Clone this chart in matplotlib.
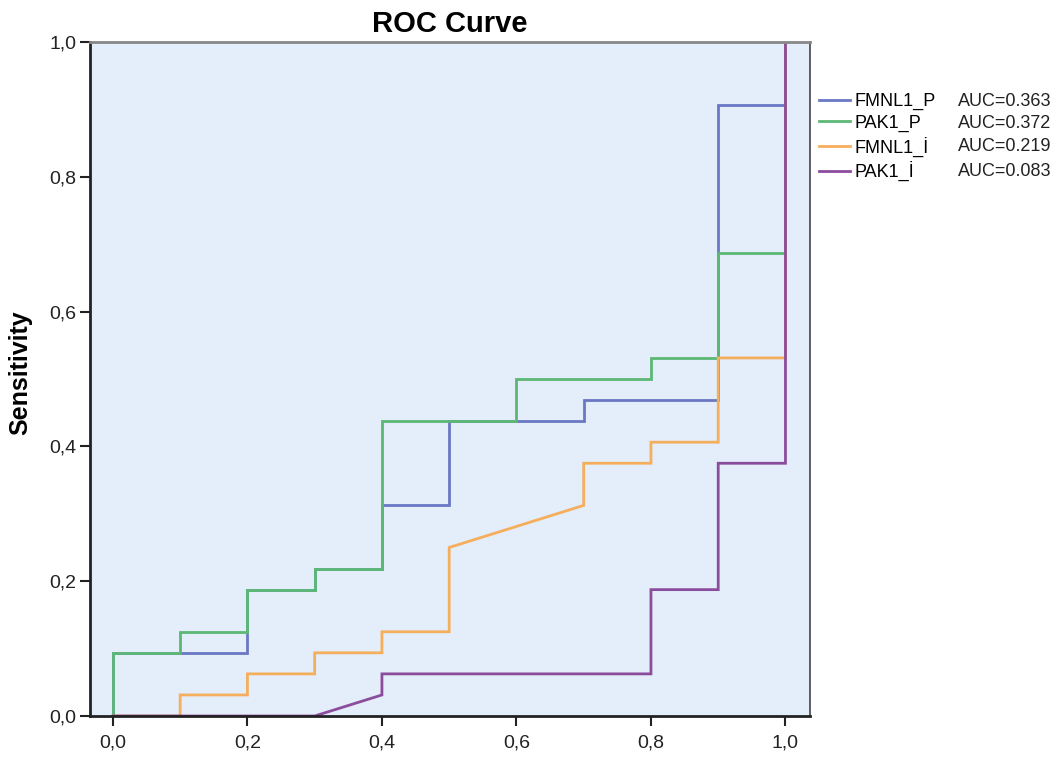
import matplotlib
matplotlib.use("Agg")
from matplotlib import pyplot as plt
from matplotlib.ticker import FuncFormatter

# ROC curve points (1 - specificity, sensitivity)
fmnl1_p_x = [0.0, 0.0, 0.2, 0.2, 0.3, 0.3, 0.4, 0.4, 0.5, 0.5, 0.7, 0.7, 0.9, 0.9, 1.0, 1.0]
fmnl1_p_y = [0.0, 3/32, 3/32, 6/32, 6/32, 7/32, 7/32, 10/32, 10/32, 14/32, 14/32, 15/32, 15/32, 29/32, 29/32, 1.0]

pak1_p_x = [0.0, 0.0, 0.1, 0.1, 0.2, 0.2, 0.3, 0.3, 0.4, 0.4, 0.6, 0.6, 0.8, 0.8, 0.9, 0.9, 1.0, 1.0]
pak1_p_y = [0.0, 3/32, 3/32, 4/32, 4/32, 6/32, 6/32, 7/32, 7/32, 14/32, 14/32, 16/32, 16/32, 17/32, 17/32, 22/32, 22/32, 1.0]

fmnl1_i_x = [0.0, 0.1, 0.1, 0.2, 0.2, 0.3, 0.3, 0.4, 0.4, 0.5, 0.5, 0.7, 0.7, 0.8, 0.8, 0.9, 0.9, 1.0, 1.0]
fmnl1_i_y = [0.0, 0.0, 1/32, 1/32, 2/32, 2/32, 3/32, 3/32, 4/32, 4/32, 8/32, 10/32, 12/32, 12/32, 13/32, 13/32, 17/32, 17/32, 1.0]

pak1_i_x = [0.0, 0.3, 0.4, 0.4, 0.8, 0.8, 0.9, 0.9, 1.0, 1.0]
pak1_i_y = [0.0, 0.0, 1/32, 2/32, 2/32, 6/32, 6/32, 12/32, 12/32, 1.0]

names = ['FMNL1_P', 'PAK1_P', 'FMNL1_İ', 'PAK1_İ']
aucs = ['AUC=0.363', 'AUC=0.372', 'AUC=0.219', 'AUC=0.083']
colors = ['#6a78c4', '#5cb874', '#f5ae5c', '#8c4c9c']

plt.rcParams['font.family'] = ['Liberation Sans', 'DejaVu Sans']

fig = plt.figure(figsize=(10.63, 7.58), dpi=100)
ax = fig.add_axes([0.0847, 0.0554, 0.677, 0.8892])
ax.set_facecolor('#e3eefa')

series = [(fmnl1_p_x, fmnl1_p_y), (pak1_p_x, pak1_p_y),
          (fmnl1_i_x, fmnl1_i_y), (pak1_i_x, pak1_i_y)]
for (xs, ys), name, c in zip(series, names, colors):
    ax.plot(xs, ys, color=c, lw=2, label=name, solid_joinstyle='miter')

ax.set_xlim(-0.034, 1.036)
ax.set_ylim(0, 1)
ticks = [0.0, 0.2, 0.4, 0.6, 0.8, 1.0]
ax.set_xticks(ticks)
ax.set_yticks(ticks)
fmt = FuncFormatter(lambda v, p: ('%.1f' % v).replace('.', ','))
ax.xaxis.set_major_formatter(fmt)
ax.yaxis.set_major_formatter(fmt)
ax.tick_params(direction='out', length=7, width=1.5, labelsize=14, colors='#222222', pad=3)
ax.tick_params(axis='x', pad=6)

for s in ['left', 'bottom']:
    ax.spines[s].set_linewidth(2)
    ax.spines[s].set_color('#222222')
ax.spines['top'].set_color('#888888')
ax.spines['top'].set_linewidth(2)
ax.spines['right'].set_color('#444444')
ax.spines['right'].set_linewidth(1.2)

ax.set_ylabel('Sensitivity', fontsize=18, fontweight='bold')
ax.yaxis.set_label_coords(-0.08, 0.51)
ax.set_title('ROC Curve', fontsize=21, fontweight='bold', pad=7)

leg = ax.legend(loc='upper left', bbox_to_anchor=(0.995, 0.943), frameon=False,
                fontsize=13, handlelength=1.75, handletextpad=0.25,
                labelspacing=0.25, borderaxespad=0.3)

# AUC values next to legend entries
fig.canvas.draw()
for t, a in zip(leg.get_texts(), aucs):
    bb = t.get_window_extent()
    yc = (bb.y0 + bb.y1) / 2 / fig.bbox.height
    fig.text(958 / 1063, yc, a, fontsize=13, va='center', ha='left', color='#222222')

fig.savefig('out.png', dpi=100)
